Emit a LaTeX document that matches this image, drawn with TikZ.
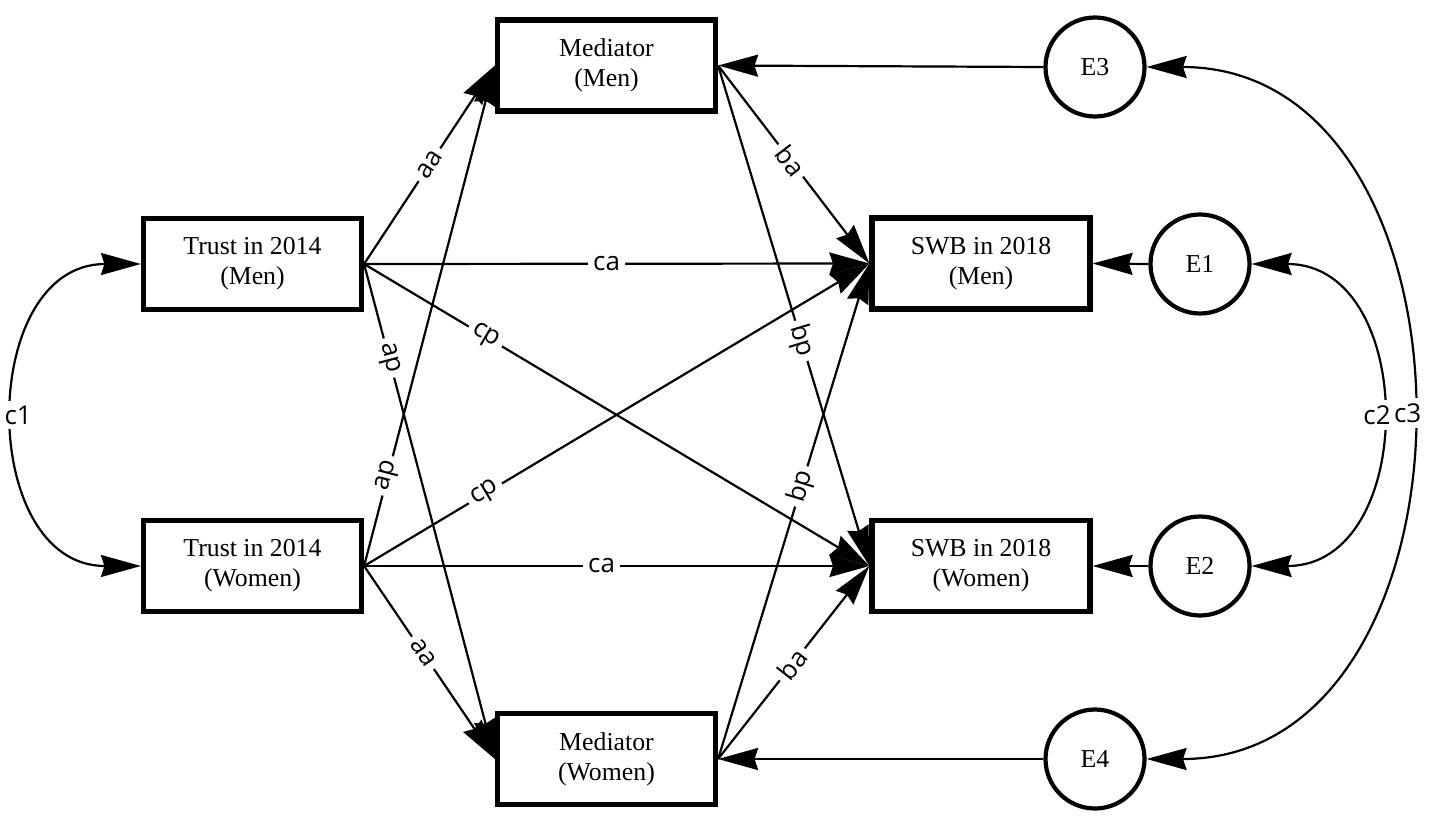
\documentclass[tikz,border=0pt]{standalone}
\usepackage{fontspec}
\setmainfont{Liberation Serif}
\newfontfamily\lblfont{Open Sans}
\usetikzlibrary{arrows.meta}
\begin{document}
\begin{tikzpicture}[x=0.5pt,y=-0.5pt,
 box/.style={draw, line width=2.6pt, minimum width=109pt, minimum height=45.5pt, inner sep=0pt, align=center, font=\fontsize{12.9}{15}\selectfont},
 err/.style={draw, circle, line width=2.1pt, minimum size=49.5pt, inner sep=0pt, font=\fontsize{12.9}{15}\selectfont},
 tipa/.tip={Stealth[length=20pt,width=11pt,inset=1.8pt]},
 arr/.style={line width=1.1pt, -tipa},
 dbl/.style={line width=1.1pt, tipa-tipa},
 lblbase/.style={fill=white, inner sep=2.5pt, font=\lblfont\fontsize{13}{15}\selectfont},
 lbl/.style={lblbase, sloped}
]
\useasboundingbox (0,0) rectangle (1430,825);
\node[box] (TM) at (252.5,264) {Trust in 2014\\(Men)};
\node[box] (TW) at (252.5,566) {Trust in 2014\\(Women)};
\node[box] (MM) at (606.5,65.5) {Mediator\\(Men)};
\node[box] (MW) at (606.5,759) {Mediator\\(Women)};
\node[box] (SM) at (981,263.5) {SWB in 2018\\(Men)};
\node[box] (SW) at (981,566) {SWB in 2018\\(Women)};
\node[err] (E3) at (1095,67) {E3};
\node[err] (E1) at (1200,264) {E1};
\node[err] (E2) at (1200,566) {E2};
\node[err] (E4) at (1095,759) {E4};

\draw[arr] (TM.east) -- node[lbl,pos=0.5]{aa} (MM.west);
\draw[arr] (TM.east) -- node[lbl,pos=0.19]{ap} (MW.west);
\draw[arr] (TM.east) -- node[lbl,pos=0.48]{ca} (SM.west);
\draw[arr] (TM.east) -- node[lbl,pos=0.24]{cp} (SW.west);
\draw[arr] (TW.east) -- node[lbl,pos=0.18]{ap} (MM.west);
\draw[arr] (TW.east) -- node[lbl,pos=0.45]{aa} (MW.west);
\draw[arr] (TW.east) -- node[lbl,pos=0.24]{cp} (SM.west);
\draw[arr] (TW.east) -- node[lbl,pos=0.47]{ca} (SW.west);
\draw[arr] (MM.east) -- node[lbl,pos=0.48]{ba} (SM.west);
\draw[arr] (MM.east) -- node[lbl,pos=0.55]{bp} (SW.west);
\draw[arr] (MW.east) -- node[lbl,pos=0.55]{bp} (SM.west);
\draw[arr] (MW.east) -- node[lbl,pos=0.49]{ba} (SW.west);

\draw[arr] (E3.west) -- (MM.east);
\draw[arr] (E4.west) -- (MW.east);
\draw[arr] (E1.west) -- (SM.east);
\draw[arr] (E2.west) -- (SW.east);

\draw[dbl] (TM.west) to[out=180,in=180,looseness=1.39] node[lblbase]{c1} (TW.west);
\draw[dbl] (E1.east) to[out=0,in=0,looseness=1.42] node[lblbase]{c2} (E2.east);
\draw[dbl] (E3.east) to[out=0,in=0,looseness=1.29] node[lblbase]{c3} (E4.east);
\end{tikzpicture}
\end{document}
